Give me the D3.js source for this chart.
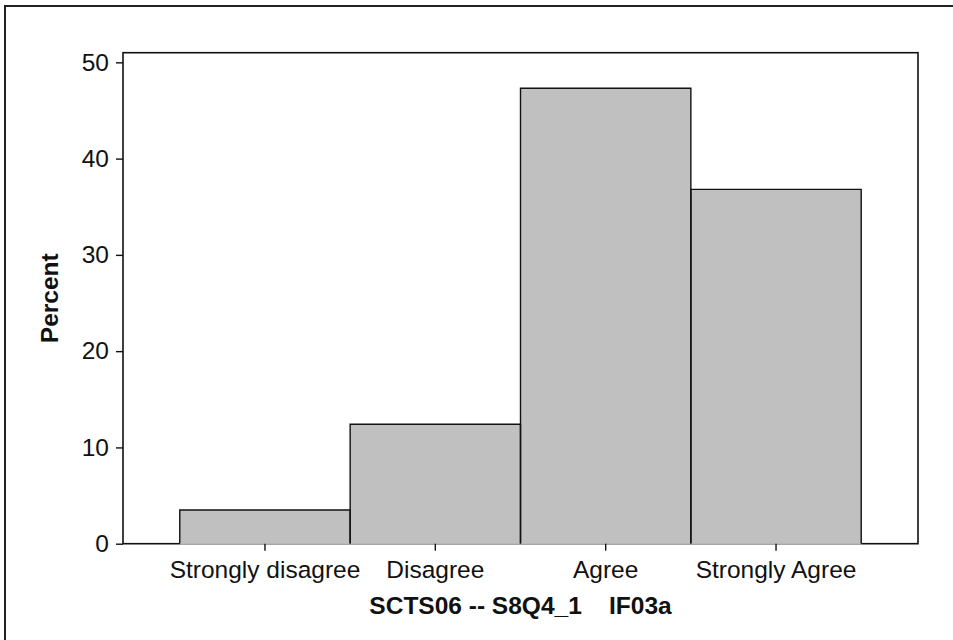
<!DOCTYPE html>
<html>
<head>
<meta charset="utf-8">
<script src="https://cdn.jsdelivr.net/npm/d3@7"></script>
<style>
  html, body { margin: 0; padding: 0; background: #fff; }
  svg { display: block; font-family: "Liberation Sans", Arial, sans-serif; }
</style>
</head>
<body>
<svg id="chart" width="953" height="640"></svg>
<script>
const categories = ["Strongly disagree", "Disagree", "Agree", "Strongly Agree"];
const percents = [3.5, 12.4, 47.3, 36.8];
const yTicks = [0, 10, 20, 30, 40, 50];
const xTitle = "SCTS06 -- S8Q4_1    IF03a";
const yTitle = "Percent";

const svg = d3.select("#chart");
const L = 123, R = 918, T = 52.7, B = 543.7;
const FS = 24.5;

// outer border (left and top)
svg.append("path")
  .attr("d", `M5,640V6H953`)
  .attr("fill", "none").attr("stroke", "#222").attr("stroke-width", 2);

const x = d3.scaleBand().domain(categories).range([L, R]).paddingInner(0).paddingOuter(1/3);
const y = d3.scaleLinear().domain([0, 51]).range([B, T]);

// plot frame
svg.append("rect")
  .attr("x", L).attr("y", T).attr("width", R - L).attr("height", B - T)
  .attr("fill", "none").attr("stroke", "#111").attr("stroke-width", 1.6);

// bars
const bars = svg.append("g");
bars.selectAll("rect").data(categories).join("rect")
  .attr("x", d => x(d)).attr("width", x.bandwidth())
  .attr("y", (d, i) => y(percents[i]))
  .attr("height", (d, i) => y(0) - y(percents[i]) + 0.8)
  .attr("fill", "#c0c0c0");
bars.selectAll("path").data(categories).join("path")
  .attr("d", (d, i) => {
    const x0 = x(d), x1 = x(d) + x.bandwidth(), yt = y(percents[i]), yb = y(0);
    return `M${x0},${yb}V${yt}H${x1}V${yb}`;
  })
  .attr("fill", "none").attr("stroke", "#111").attr("stroke-width", 1.4);
bars.selectAll("line").data(categories).join("line")
  .attr("x1", d => x(d)).attr("x2", d => x(d) + x.bandwidth())
  .attr("y1", y(0) + 0.5).attr("y2", y(0) + 0.5)
  .attr("stroke", "#a8a8a8").attr("stroke-width", 1);

// y axis
const yAxis = svg.append("g").attr("transform", `translate(${L},0)`)
  .call(d3.axisLeft(y).tickValues(yTicks).tickSize(7).tickPadding(7).tickFormat(d3.format("d")));
yAxis.select(".domain").remove();
yAxis.selectAll("line").attr("stroke", "#111").attr("stroke-width", 1.4);
yAxis.selectAll("text").attr("font-size", FS).attr("fill", "#111")
  .attr("font-family", "Liberation Sans, Arial, sans-serif");

// x axis
const xAxis = svg.append("g").attr("transform", `translate(0,${B})`)
  .call(d3.axisBottom(x).tickSize(7).tickPadding(10));
xAxis.select(".domain").remove();
xAxis.selectAll("line").attr("stroke", "#111").attr("stroke-width", 1.4);
xAxis.selectAll("text").attr("font-size", FS).attr("fill", "#111")
  .attr("font-family", "Liberation Sans, Arial, sans-serif");

// titles
svg.append("text")
  .attr("x", (L + R) / 2).attr("y", 614)
  .attr("text-anchor", "middle")
  .attr("font-size", FS).attr("font-weight", "bold").attr("fill", "#111")
  .style("white-space", "pre")
  .text(xTitle);

svg.append("text")
  .attr("transform", `translate(58,${(T + B) / 2}) rotate(-90)`)
  .attr("text-anchor", "middle")
  .attr("font-size", FS).attr("font-weight", "bold").attr("fill", "#111")
  .text(yTitle);
</script>
</body>
</html>
